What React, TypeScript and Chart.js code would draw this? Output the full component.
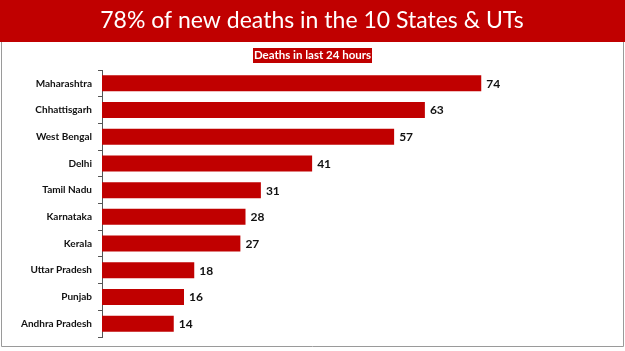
import React, { useEffect, useRef } from "react";
import { Chart, registerables } from "chart.js";

Chart.register(...registerables);

const TITLE = "78% of new deaths in the 10 States & UTs";
const SUBTITLE = "Deaths in last 24 hours";
const states = [
  "Maharashtra",
  "Chhattisgarh",
  "West Bengal",
  "Delhi",
  "Tamil Nadu",
  "Karnataka",
  "Kerala",
  "Uttar Pradesh",
  "Punjab",
  "Andhra Pradesh",
];
const deaths = [74, 63, 57, 41, 31, 28, 27, 18, 16, 14];

const RED = "#C00000";

const decorPlugin = {
  id: "decor",
  beforeDraw(chart: any) {
    const ctx = chart.ctx;
    const w = chart.width;
    const h = chart.height;
    ctx.save();
    ctx.fillStyle = "#ffffff";
    ctx.fillRect(0, 0, w, h);
    // header
    ctx.fillStyle = RED;
    ctx.fillRect(0, 0, w, 42);
    ctx.fillStyle = "#ffffff";
    ctx.font = "23px Lato";
    ctx.textAlign = "center";
    ctx.textBaseline = "middle";
    ctx.fillText(TITLE, 312, 21);
    // frame
    ctx.strokeStyle = "#9a9a9a";
    ctx.lineWidth = 1;
    ctx.beginPath();
    ctx.moveTo(1.5, 42);
    ctx.lineTo(1.5, 346.5);
    ctx.lineTo(623.5, 346.5);
    ctx.lineTo(623.5, 42);
    ctx.stroke();
    // subtitle box
    ctx.fillStyle = RED;
    ctx.fillRect(253, 48, 119, 15);
    ctx.fillStyle = "#ffffff";
    ctx.font = "bold 11.5px Lato";
    ctx.fillText(SUBTITLE, 312.5, 55.5);
    ctx.restore();
  },
  afterDatasetsDraw(chart: any) {
    const ctx = chart.ctx;
    const meta = chart.getDatasetMeta(0);
    ctx.save();
    ctx.fillStyle = "#111111";
    ctx.font = "bold 12px Lato";
    ctx.textAlign = "left";
    ctx.textBaseline = "middle";
    meta.data.forEach((bar: any, i: number) => {
      ctx.fillText(String(deaths[i]), bar.x + 5, bar.y + 0.5);
    });
    ctx.restore();
  },
};

export default function App() {
  const ref = useRef<HTMLCanvasElement>(null);
  useEffect(() => {
    document.body.style.margin = "0";
    const chart = new Chart(ref.current!, {
      type: "bar",
      data: {
        labels: states,
        datasets: [
          {
            data: deaths,
            backgroundColor: RED,
            borderWidth: 0,
            categoryPercentage: 0.6,
            barPercentage: 1,
          },
        ],
      },
      options: {
        indexAxis: "y",
        animation: false,
        responsive: false,
        layout: { padding: { left: 0, right: 113, top: 70, bottom: 14 } },
        plugins: { legend: { display: false }, tooltip: { enabled: false }, title: { display: false } },
        scales: {
          x: { display: false, min: 0, max: 80 },
          y: {
            afterFit(scale: any) {
              scale.width = 102;
            },
            border: { display: true, color: "#555555", width: 1 },
            grid: { display: true, drawOnChartArea: false, tickLength: 4, color: "#555555", offset: true },
            ticks: { color: "#111111", font: { family: "Lato", size: 10, weight: "bold" }, padding: 6 },
          },
        },
      },
      plugins: [decorPlugin],
    });
    return () => chart.destroy();
  }, []);
  return (
    <div style={{ position: "fixed", left: 0, top: 0, width: 625, height: 351 }}>
      <canvas ref={ref} width={625} height={351} style={{ width: 625, height: 351 }} />
    </div>
  );
}
